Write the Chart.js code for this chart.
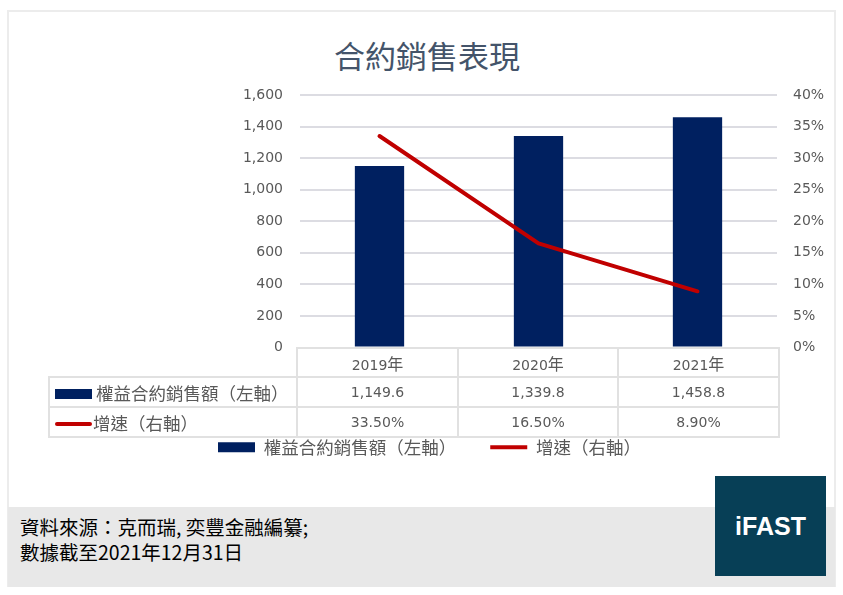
<!DOCTYPE html>
<html>
<head>
<meta charset="utf-8">
<script src="https://cdn.jsdelivr.net/npm/chart.js@4.4.1/dist/chart.umd.min.js"></script>
<style>
  body { margin: 0; background: #ffffff; }
  #page { position: relative; width: 843px; height: 595px; overflow: hidden; background: #ffffff; }
  .card { position: absolute; left: 7px; top: 10px; width: 829px; height: 577px; box-sizing: border-box; border: 2px solid #ececec; }
  .title { position: absolute; left: 0; top: 35px; width: 854px; text-align: center; font: 31px/40px "Noto Sans CJK TC", sans-serif; color: #44546a; }
  .chart-box { position: absolute; left: 0; top: 0; width: 859px; height: 466px; }
  table.data { position: absolute; left: 48px; top: 347px; border-collapse: collapse; font: 14px "DejaVu Sans", "Noto Sans CJK TC", sans-serif; color: #595959; }
  table.data td { border: 2px solid #e1e1e1; text-align: center; padding: 0; }
  table.data td.empty { border: none; }
  table.data td.name { text-align: left; padding-left: 5px; font: 17.5px "Noto Sans CJK TC", sans-serif; white-space: nowrap; }
  .cjk { font: 16px "Noto Sans CJK TC", sans-serif; }
  .mark-bar { display: inline-block; width: 37px; height: 10px; background: #002060; vertical-align: middle; margin-right: 4px; position: relative; top: -1px; }
  .mark-line { display: inline-block; width: 37px; height: 4px; border-radius: 2px; background: #c00000; vertical-align: middle; margin-right: 1px; position: relative; top: -1px; }
  .footer { position: absolute; left: 8px; top: 507px; width: 827px; height: 80px; background: #e8e8e8; }
  .source { position: absolute; left: 20px; top: 514px; font: 19.5px/25px "Noto Sans CJK TC", sans-serif; color: #000000; }
  .logo { position: absolute; left: 715px; top: 476px; width: 111px; height: 100px; background: #073f56; color: #ffffff; font: bold 25px/100px "Liberation Sans", Arial, sans-serif; text-align: center; }
</style>
</head>
<body>
<div id="page">
  <div class="card"></div>
  <div class="footer"></div>
  <div class="title">合約銷售表現</div>
  <div class="chart-box"><canvas id="salesChart"></canvas></div>
  <table class="data" id="dataTable"></table>
  <div class="source">資料來源：克而瑞, 奕豐金融編纂;<br>數據截至2021年12月31日</div>
  <div class="logo">iFAST</div>
</div>
<script>
const years = ['2019年', '2020年', '2021年'];
const salesValues = [1149.6, 1339.8, 1458.8];
const growthValues = [33.5, 16.5, 8.9];
const seriesNames = ['權益合約銷售額（左軸）', '增速（右軸）'];

const barColor = '#002060';
const lineColor = '#c00000';
const textColor = '#595959';

// wrap CJK chars so they get the bigger size like in the original
const withCjk = (s) => s.replace(/([^\x00-\x7f]+)/g, '<span class="cjk">$1</span>');

// data table under the plot
const table = document.getElementById('dataTable');
const colWidths = [252, 159, 158, 159];
let html = '<tr style="height:29px"><td class="empty" style="width:' + (colWidths[0] - 5) + 'px"></td>';
years.forEach((y, i) => {
  html += '<td style="width:' + colWidths[i + 1] + 'px">' + withCjk(y) + '</td>';
});
html += '</tr><tr style="height:30px"><td class="name"><span class="mark-bar"></span>' + seriesNames[0] + '</td>';
salesValues.forEach(v => {
  html += '<td>' + v.toLocaleString('en-US', { minimumFractionDigits: 1, maximumFractionDigits: 1 }) + '</td>';
});
html += '</tr><tr style="height:30px"><td class="name"><span class="mark-line"></span>' + seriesNames[1] + '</td>';
growthValues.forEach(v => {
  html += '<td>' + v.toFixed(2) + '%</td>';
});
html += '</tr>';
table.innerHTML = html;

Chart.defaults.font.family = "'DejaVu Sans', 'Noto Sans CJK TC', sans-serif";
Chart.defaults.font.size = 14;
Chart.defaults.color = textColor;

// canvas is a bit wider than the page so the legend sits where the original has it
new Chart(document.getElementById('salesChart'), {
  type: 'bar',
  data: {
    labels: years,
    datasets: [{
      label: seriesNames[0],
      data: salesValues,
      yAxisID: 'y',
      backgroundColor: barColor,
      borderWidth: 0,
      barPercentage: 0.31,
      categoryPercentage: 1,
      order: 1
    }, {
      type: 'line',
      label: seriesNames[1],
      data: growthValues,
      yAxisID: 'y1',
      borderColor: lineColor,
      backgroundColor: lineColor,
      borderWidth: 4,
      borderCapStyle: 'round',
      borderJoinStyle: 'round',
      pointRadius: 0,
      pointHoverRadius: 0,
      tension: 0,
      order: 0
    }]
  },
  options: {
    responsive: true,
    maintainAspectRatio: false,
    animation: false,
    layout: { padding: { top: 95, left: 0, right: 0, bottom: 0 } },
    plugins: {
      tooltip: { enabled: false },
      legend: {
        position: 'bottom',
        labels: {
          color: textColor,
          font: { family: "'Noto Sans CJK TC', sans-serif", size: 17.5 },
          usePointStyle: true,
          pointStyleWidth: 37,
          boxHeight: 10,
          padding: 34,
          sort: (a, b) => a.datasetIndex - b.datasetIndex,
          generateLabels: (chart) => Chart.defaults.plugins.legend.labels.generateLabels(chart).map(item => ({
            ...item,
            pointStyle: item.datasetIndex === 0 ? 'rect' : 'line'
          }))
        }
      }
    },
    scales: {
      x: {
        ticks: { display: false },
        grid: { display: false, drawTicks: false },
        border: { display: false },
        afterFit: (scale) => { scale.height = 57; }
      },
      y: {
        position: 'left',
        min: 0,
        max: 1600,
        ticks: {
          stepSize: 200,
          padding: 17,
          callback: (v) => v.toLocaleString('en-US')
        },
        grid: { color: '#dcdce2', lineWidth: 2, drawTicks: false },
        border: { display: false },
        afterFit: (scale) => { scale.width = 300; }
      },
      y1: {
        position: 'right',
        min: 0,
        max: 40,
        ticks: {
          stepSize: 5,
          padding: 16,
          callback: (v) => v + '%'
        },
        grid: { display: false, drawTicks: false },
        border: { display: false },
        afterFit: (scale) => { scale.width = 82; }
      }
    }
  }
});
</script>
</body>
</html>
